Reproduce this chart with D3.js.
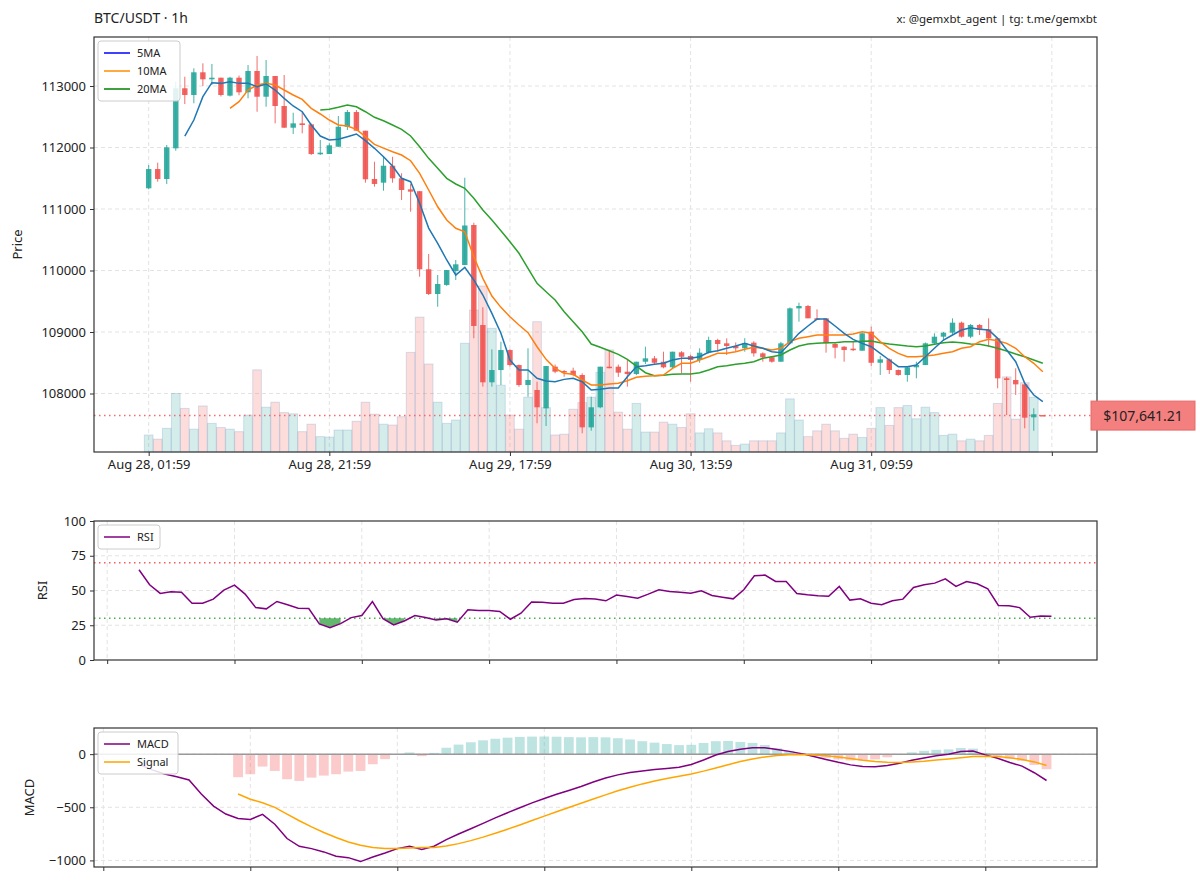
<!DOCTYPE html>
<html><head><meta charset="utf-8">
<script src="https://cdn.jsdelivr.net/npm/d3@7"></script>
<style>body{margin:0;background:#fff}svg{display:block;font-family:"Noto Sans",sans-serif}</style>
</head><body><svg id="c" width="1200" height="884"></svg>
<script>
// ---------------- DATA ----------------
const opens=[111337,111650,111488,111987,112963,112854,113223,113109,113135,112843,113135,112898,113244,112826,113163,112675,112322,112393,112377,111890,111894,112013,112338,112577,112273,111488,111428,111704,111499,111320,111290,110020,109618,109765,109992,110090,110740,109114,108182,108382,108707,108463,108138,108057,107759,108436,108366,108371,108301,107450,107776,108436,108436,108355,108317,108517,108572,108517,108426,108670,108610,108545,108664,108870,108816,108772,108735,108827,108653,108589,108517,108816,109385,109423,109223,109223,108805,108761,108729,108696,109005,108500,108556,108382,108301,108426,108463,108816,108924,108989,109152,108924,109114,109044,108897,108247,108220,108149,107613,107650];
const highs=[111715,111753,112041,113070,113151,113288,113369,113358,113135,113150,113170,113341,113488,113423,113163,113179,112566,112582,112390,112122,112068,112512,112610,112610,112273,111769,111850,111850,111581,111407,111290,110268,109927,110008,110171,111509,110777,109402,108718,108842,108720,108470,108735,108192,108447,108470,108382,108420,108329,107948,108436,108700,108470,108545,108517,108761,108610,108680,108680,108690,108630,108735,108924,108890,108897,108830,108900,108850,108670,108600,108840,109400,109477,109440,109369,109223,108820,108770,108842,108990,109087,108610,108570,108390,108440,108517,108830,108979,109000,109223,109170,109130,109130,109223,108897,108273,108410,108149,107760,107650];
const lows=[111320,111444,111407,111948,112707,112719,113000,113016,112830,112830,112850,112800,112582,112663,112393,112322,112220,112231,111880,111880,111894,112013,112285,112273,111428,111363,111298,111428,111146,110956,109899,109602,109411,109750,109846,110090,108898,108111,108111,108138,108440,108110,107948,107516,107472,108330,108273,108280,107353,107395,107760,108410,108270,108111,108300,108480,108480,108410,108400,108329,108192,108500,108650,108680,108626,108680,108680,108600,108517,108500,108517,108800,109168,109223,109200,108664,108572,108517,108690,108696,108447,108301,108317,108290,108192,108247,108463,108800,108859,108960,108910,108900,108951,108761,108085,107650,107976,107434,107395,107641.21];
const closes=[111650,111488,112003,112963,112854,113223,113109,113135,112854,113135,112898,113244,112826,113163,112675,112322,112393,112366,111894,111916,112036,112338,112577,112273,111483,111407,111704,111499,111309,111282,110020,109618,109781,110008,110101,110732,109098,108182,108382,108707,108463,108138,108220,107776,108447,108355,108345,108301,107450,107776,108436,108420,108339,108317,108517,108572,108500,108426,108680,108598,108545,108664,108870,108805,108772,108735,108816,108653,108589,108517,108816,109385,109423,109223,109210,108816,108745,108707,108707,108979,108500,108556,108382,108301,108426,108463,108816,108924,108989,109152,108924,109114,109033,108897,108247,108220,108149,107607,107662,107641.21];
const volumes=[41,31,57,141,105,55,111,69,59,55,49,89,198,108,120,95,92,49,67,37,36,53,53,74,120,91,67,65,85,240,325,212,120,69,77,262,342,400,298,161,89,55,132,314,107,41,43,103,119,132,192,246,96,55,117,48,48,72,67,59,92,46,56,46,27,16,19,27,27,27,46,128,77,37,51,67,51,33,43,35,57,107,64,107,112,80,108,95,40,43,27,31,27,40,117,181,79,167,132,0];
const N=null;
const ma5=[N,N,N,N,112187,112447,112826,113054,113043,113070,113043,113043,112989,113033,112935,112800,112675,112582,112366,112187,112122,112133,112176,112220,112111,111987,111850,111700,111499,111444,111093,110690,110443,110171,109927,110052,109846,109602,109304,108979,108545,108382,108382,108247,108203,108193,108230,108247,108192,108057,108068,108090,108090,108274,108436,108452,108475,108491,108545,108572,108572,108598,108670,108696,108735,108772,108816,108772,108735,108680,108664,108816,108979,109098,109211,109211,109098,108979,108881,108816,108761,108653,108545,108436,108436,108463,108598,108735,108870,108951,109033,109070,109044,109033,108897,108707,108517,108166,107976,107867];
const ma10=[N,N,N,N,N,N,N,N,N,112637,112745,112935,113016,113043,113016,112935,112854,112783,112637,112545,112447,112366,112350,112296,112176,112052,111990,111932,111878,111785,111580,111309,111037,110821,110686,110631,110224,109873,109585,109401,109249,109114,108989,108761,108556,108410,108329,108312,108220,108138,108138,108155,108166,108208,108263,108279,108290,108301,108410,108491,108491,108545,108598,108653,108653,108680,108719,108751,108735,108707,108735,108843,108897,108924,108951,108951,108951,108951,108967,109005,108979,108843,108735,108653,108598,108598,108610,108626,108653,108680,108735,108761,108843,108881,108859,108816,108735,108598,108491,108355];
const ma20=[N,N,N,N,N,N,N,N,N,N,N,N,N,N,N,N,N,N,N,112610,112621,112654,112691,112663,112582,112491,112436,112366,112296,112187,112013,111824,111662,111499,111407,111337,111174,110984,110821,110647,110469,110280,110036,109792,109655,109520,109330,109168,109005,108805,108751,108696,108637,108556,108447,108338,108290,108296,108312,108317,108317,108338,108382,108436,108452,108475,108491,108517,108572,108598,108626,108707,108772,108805,108816,108827,108827,108843,108843,108849,108854,108827,108805,108789,108772,108761,108772,108800,108827,108838,108827,108805,108800,108772,108735,108691,108642,108598,108545,108491];
const rsi=[N,N,N,N,N,N,N,N,N,N,N,N,N,64.9,54.1,47.9,49.1,48.8,40.9,40.9,43.8,50.3,53.9,47.4,37.7,36.8,42.1,39.7,37.3,37.0,26.0,23.3,26.2,30.5,32.0,42.1,29.8,25.3,28.1,32.0,30.5,28.8,29.6,27.2,36.1,35.6,35.6,34.9,29.3,33.7,41.8,41.6,40.9,40.9,43.5,44.2,43.8,42.6,46.7,45.7,44.5,47.4,50.5,49.3,48.8,48.1,49.8,46.4,45.2,44.0,50.5,60.6,61.1,56.5,56.5,47.9,46.9,46.2,45.9,52.9,43.1,44.0,40.9,39.7,42.6,43.8,52.2,54.1,55.3,58.4,52.9,56.5,54.8,51.2,39.2,39.0,37.7,30.8,31.7,31.5];
const macd=[N,N,N,N,N,N,N,N,N,N,N,N,N,N,N,N,N,N,N,N,N,N,N,N,N,-101,-148,-186,-212,-243,-375,-489,-564,-605,-614,-567,-659,-794,-867,-889,-920,-961,-974,-1011,-968,-930,-889,-867,-898,-867,-804,-752,-702,-651,-600,-551,-504,-459,-417,-378,-342,-304,-262,-225,-195,-173,-158,-145,-135,-123,-98,-55,-8,25,45,60,60,43,26,5,-23,-50,-77,-101,-116,-118,-107,-86,-57,-36,-15,0,25,30,-7,-39,-78,-113,-175,-248];
const signal=[N,N,N,N,N,N,N,N,N,N,N,N,N,N,N,N,N,N,N,N,N,N,N,N,N,N,N,N,N,N,N,N,N,-375,-425,-457,-501,-564,-627,-684,-737,-785,-826,-857,-879,-889,-889,-883,-879,-879,-864,-842,-814,-781,-745,-706,-666,-624,-583,-542,-502,-462,-422,-383,-345,-311,-280,-253,-230,-208,-186,-160,-130,-99,-70,-46,-26,-12,-5,-3,-7,-15,-28,-42,-57,-69,-77,-79,-74,-67,-56,-45,-33,-22,-19,-23,-34,-50,-73,-106];
const hist=[N,N,N,N,N,N,N,N,N,N,N,N,N,N,N,N,N,N,N,N,N,N,N,N,N,N,N,N,N,N,N,N,N,-217,-189,-117,-158,-236,-252,-221,-202,-189,-164,-158,-95,-47,-3,16,-19,12,60,90,112,130,145,155,162,165,166,164,160,158,160,158,150,138,122,108,95,85,88,105,122,124,115,106,86,55,31,8,-16,-35,-49,-59,-59,-49,-30,-7,17,31,41,45,58,52,12,-16,-44,-63,-102,-142];
const xTickIdx=[0,20,40,60,80,100];
const xTickLabels=["Aug 28, 01:59","Aug 28, 21:59","Aug 29, 17:59","Aug 30, 13:59","Aug 31, 09:59",""];
const subTickIdx=[10,22,34,46,58,70,82,94,106];
const priceTicks=[108000,109000,110000,111000,112000,113000];
const rsiTicks=[0,25,50,75,100];
const macdTicks=[-1000,-500,0];
const lastPrice=107641.21;

// ---------------- LAYOUT ----------------
const svg=d3.select("#c");
const L=94,R=1097;
const P={top:37,bot:452}, Q={top:521,bot:660}, M={top:728,bot:867};
const GREEN="#26a69a", RED="#ef5350";
const idx=d3.range(opens.length);

const x=d3.scaleLinear().domain([-6.055,105.0]).range([L,R]);
const y=d3.scaleLinear().domain([107049,113797]).range([P.bot,P.top]);
const yv=d3.scaleLinear().domain([0,1000]).range([P.bot,P.top]);
const xr=d3.scaleLinear().domain([13-(139-L)/10.61,13+(R-139)/10.61]).range([L,R]);
const yr=d3.scaleLinear().domain([0,100]).range([Q.bot,Q.top]);
const xm=d3.scaleLinear().domain([34-(250.3-L)/12.25,34+(R-250.3)/12.25]).range([L,R]);
const ym=d3.scaleLinear().domain([-1062,246]).range([M.bot,M.top]);

function grid(g,xs,xt,ys,yt,top,bot){
  g.selectAll(".gx").data(xt.filter(t=>xs(t)>=L&&xs(t)<=R)).join("line").attr("x1",d=>xs(d)).attr("x2",d=>xs(d)).attr("y1",top).attr("y2",bot)
   .attr("stroke","#e3e3e3").attr("stroke-dasharray","4,3");
  g.selectAll(".gy").data(yt).join("line").attr("x1",L).attr("x2",R).attr("y1",d=>ys(d)).attr("y2",d=>ys(d))
   .attr("stroke","#e3e3e3").attr("stroke-dasharray","4,3");
}
function frame(top,bot){
  svg.append("rect").attr("x",L).attr("y",top).attr("width",R-L).attr("height",bot-top).attr("fill","none").attr("stroke","#333").attr("stroke-width",1.2);
}
function styleAxis(g){
  g.select(".domain").remove();
  g.selectAll(".tick line").attr("stroke","#333");
  g.selectAll(".tick text").attr("fill","#222").style("font-size","13px").style("font-family","Noto Sans, sans-serif");
}
function legend(items,x0,y0,w){
  const g=svg.append("g");
  g.append("rect").attr("x",x0).attr("y",y0).attr("width",w).attr("height",items.length*18+6).attr("rx",3)
   .attr("fill","#fff").attr("fill-opacity",0.85).attr("stroke","#ccc");
  items.forEach((it,k)=>{
    const yy=y0+12+k*18;
    g.append("line").attr("x1",x0+6).attr("x2",x0+32).attr("y1",yy).attr("y2",yy).attr("stroke",it.c).attr("stroke-width",1.5);
    g.append("text").attr("x",x0+39).attr("y",yy+4).text(it.t).style("font-size","11px").attr("fill","#222");
  });
}

// ---------------- MAIN PANEL ----------------
const gm=svg.append("g");
grid(gm,x,xTickIdx,y,priceTicks,P.top,P.bot);
gm.selectAll(".vol").data(idx.filter(i=>volumes[i]>0)).join("rect")
  .attr("x",i=>x(i-0.48)).attr("width",x(0.96)-x(0)).attr("y",i=>yv(volumes[i])).attr("height",i=>yv(0)-yv(volumes[i]))
  .attr("fill",i=>closes[i]>=opens[i]?GREEN:RED).attr("fill-opacity",0.2)
  .attr("stroke","#6a8fc0").attr("stroke-opacity",0.25).attr("stroke-width",1);
gm.append("line").attr("x1",L).attr("x2",R).attr("y1",y(lastPrice)).attr("y2",y(lastPrice))
  .attr("stroke","#f26b6b").attr("stroke-width",1.5).attr("stroke-dasharray","1.5,3.5");
gm.selectAll(".wick").data(idx).join("line").attr("x1",i=>x(i)).attr("x2",i=>x(i))
  .attr("y1",i=>y(highs[i])).attr("y2",i=>y(lows[i])).attr("stroke",i=>closes[i]>=opens[i]?GREEN:RED).attr("stroke-width",1).attr("stroke-opacity",0.85);
const bw=x(0.6)-x(0);
gm.selectAll(".body").data(idx).join("rect").attr("x",i=>x(i)-bw/2).attr("width",bw)
  .attr("y",i=>y(Math.max(opens[i],closes[i]))).attr("height",i=>Math.max(1.5,Math.abs(y(opens[i])-y(closes[i]))))
  .attr("fill",i=>closes[i]>=opens[i]?GREEN:RED).attr("fill-opacity",0.9);
const mk=(arr,sx,sy)=>d3.line().defined(i=>arr[i]!=null).x(i=>sx(i)).y(i=>sy(arr[i]));
[[ma20,"#2ca02c"],[ma10,"#ff7f0e"],[ma5,"#1f77b4"]].forEach(([a,c])=>{
  gm.append("path").attr("d",mk(a,x,y)(idx)).attr("fill","none").attr("stroke",c).attr("stroke-width",1.5);
});
frame(P.top,P.bot);
const ayP=svg.append("g").attr("transform",`translate(${L},0)`).call(d3.axisLeft(y).tickValues(priceTicks).tickFormat(d3.format("d")).tickSize(4).tickPadding(4));
styleAxis(ayP);
const axP=svg.append("g").attr("transform",`translate(0,${P.bot})`).call(d3.axisBottom(x).tickValues(xTickIdx).tickFormat((d,k)=>xTickLabels[k]).tickSize(4).tickPadding(4));
styleAxis(axP);
legend([{t:"5MA",c:"#0000ff"},{t:"10MA",c:"#ff8c00"},{t:"20MA",c:"#008000"}],98,41,82);
const pl=svg.append("g");
pl.append("rect").attr("x",1091).attr("y",y(lastPrice)-14.5).attr("width",104).attr("height",29).attr("fill","#f47f7f").attr("stroke","#e86a6a");
pl.append("text").attr("x",1143).attr("y",y(lastPrice)+5).attr("text-anchor","middle").text("$"+d3.format(",.2f")(lastPrice)).style("font-size","14px").attr("fill","#222");

// ---------------- RSI PANEL ----------------
const gr=svg.append("g");
grid(gr,xr,subTickIdx,yr,[25,50,75],Q.top,Q.bot);
gr.append("line").attr("x1",L).attr("x2",R).attr("y1",yr(70)).attr("y2",yr(70)).attr("stroke","#ff5a5a").attr("stroke-width",1.6).attr("stroke-dasharray","1.5,3.5");
gr.append("line").attr("x1",L).attr("x2",R).attr("y1",yr(30)).attr("y2",yr(30)).attr("stroke","#4caf50").attr("stroke-width",1.6).attr("stroke-dasharray","1.5,3.5");
let runs=[],cur=[];
idx.forEach(i=>{ if(rsi[i]!=null&&rsi[i]<30){cur.push(i);} else { if(cur.length>1) runs.push(cur); cur=[]; } });
if(cur.length>1) runs.push(cur);
runs.forEach(r=>{
  gr.append("path").attr("d",d3.area().x(i=>xr(i)).y0(yr(30)).y1(i=>yr(rsi[i]))(r)).attr("fill","#2e9e3e").attr("fill-opacity",0.75);
});
gr.append("path").attr("d",mk(rsi,xr,yr)(idx)).attr("fill","none").attr("stroke","#800080").attr("stroke-width",1.5);
frame(Q.top,Q.bot);
const ayR=svg.append("g").attr("transform",`translate(${L},0)`).call(d3.axisLeft(yr).tickValues(rsiTicks).tickSize(4).tickPadding(4));
styleAxis(ayR);
const axR=svg.append("g").attr("transform",`translate(0,${Q.bot})`).call(d3.axisBottom(xr).tickValues(subTickIdx.filter(t=>xr(t)<=R)).tickFormat("").tickSize(4));
styleAxis(axR);
legend([{t:"RSI",c:"#800080"}],98,525,62);

// ---------------- MACD PANEL ----------------
const gmc=svg.append("g");
grid(gmc,xm,subTickIdx,ym,macdTicks,M.top,M.bot);
const hw=xm(0.8)-xm(0);
gmc.selectAll(".hb").data(idx.filter(i=>hist[i]!=null)).join("rect")
  .attr("x",i=>xm(i)-hw/2).attr("width",hw).attr("y",i=>ym(Math.max(0,hist[i]))).attr("height",i=>Math.abs(ym(hist[i])-ym(0)))
  .attr("fill",i=>hist[i]>=0?GREEN:RED).attr("fill-opacity",0.3);
gmc.append("line").attr("x1",L).attr("x2",R).attr("y1",ym(0)).attr("y2",ym(0)).attr("stroke","#999").attr("stroke-width",1.5);
gmc.append("path").attr("d",mk(macd,xm,ym)(idx)).attr("fill","none").attr("stroke","#800080").attr("stroke-width",1.5);
gmc.append("path").attr("d",mk(signal,xm,ym)(idx)).attr("fill","none").attr("stroke","#ffa500").attr("stroke-width",1.5);
frame(M.top,M.bot);
const ayM=svg.append("g").attr("transform",`translate(${L},0)`).call(d3.axisLeft(ym).tickValues(macdTicks).tickFormat(d3.format("d")).tickSize(4).tickPadding(4));
styleAxis(ayM);
ayM.selectAll(".tick text").text(d=>d<0?"\u2212"+Math.abs(d):d);
const axM=svg.append("g").attr("transform",`translate(0,${M.bot})`).call(d3.axisBottom(xm).tickValues(subTickIdx.filter(t=>xm(t)>=L&&xm(t)<=R)).tickFormat("").tickSize(4));
styleAxis(axM);
legend([{t:"MACD",c:"#800080"},{t:"Signal",c:"#ffa500"}],98,732,80);

// ---------------- TEXTS ----------------
svg.append("text").attr("x",94).attr("y",23).text("BTC/USDT · 1h").style("font-size","14px").attr("fill","#222");
svg.append("text").attr("x",1097).attr("y",23).attr("text-anchor","end").text("x: @gemxbt_agent | tg: t.me/gemxbt").style("font-size","11.5px").attr("fill","#222");
svg.append("text").attr("transform",`translate(22,${(P.top+P.bot)/2}) rotate(-90)`).attr("text-anchor","middle").text("Price").style("font-size","13px").attr("fill","#222");
svg.append("text").attr("transform",`translate(47,${(Q.top+Q.bot)/2}) rotate(-90)`).attr("text-anchor","middle").text("RSI").style("font-size","13px").attr("fill","#222");
svg.append("text").attr("transform",`translate(34,${(M.top+M.bot)/2}) rotate(-90)`).attr("text-anchor","middle").text("MACD").style("font-size","13px").attr("fill","#222");
</script></body></html>
